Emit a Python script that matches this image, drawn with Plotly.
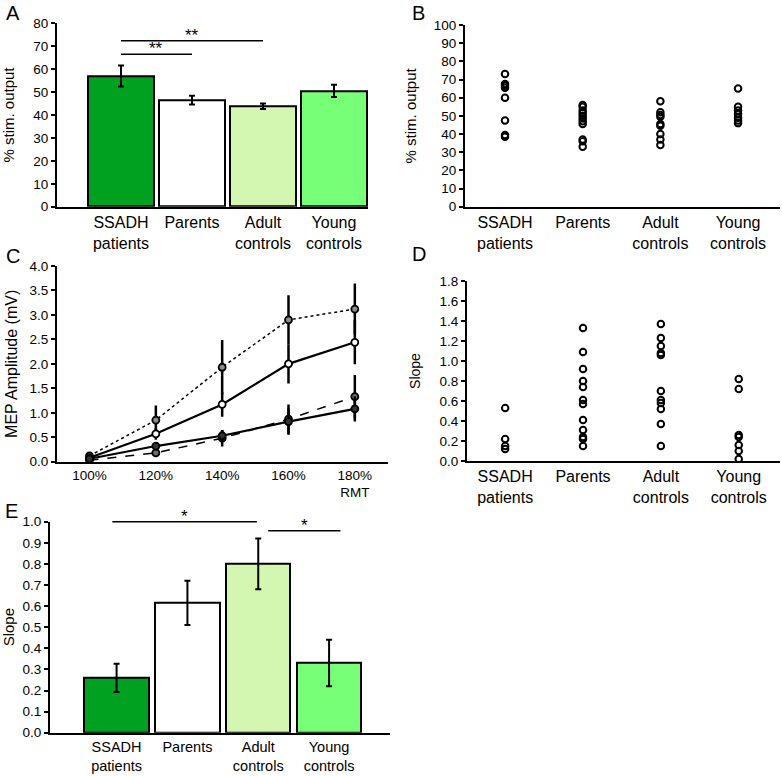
import plotly.graph_objects as go

# ---------------- data ----------------
groups = ["SSADH<br>patients", "Parents", "Adult<br>controls", "Young<br>controls"]
bar_colors = ["#00A020", "#FFFFFF", "#D3F7B0", "#78FF78"]

# Panel A: mean % stimulator output (RMT) with SEM
a_means = [57.0, 46.5, 43.8, 50.5]
a_err = [4.6, 1.9, 1.2, 2.7]
a_sig = [(0, 1, 66.5, "**"), (0, 2, 72.4, "**")]

# Panel B: individual values
b_ssadh = [73, 67.5, 66.5, 65.5, 60, 47.5, 39.5, 38.5]
b_parents = [56, 55, 53, 51.5, 50, 48.5, 47, 45.5, 37, 36, 33]
b_adult = [58, 52, 50.5, 49.5, 45.5, 44.5, 40, 37, 34]
b_young = [65, 55, 53, 51, 49, 47.5, 46]

# Panel C: recruitment curves
c_levels = ["100%", "120%", "140%", "160%", "180%<br>RMT"]
c_adult = [0.12, 0.85, 1.93, 2.90, 3.12]
c_adult_err = [0.03, 0.30, 0.56, 0.50, 0.52]
c_parents = [0.08, 0.57, 1.17, 2.00, 2.44]
c_parents_err = [0.02, 0.12, 0.25, 0.40, 0.45]
c_young = [0.03, 0.18, 0.48, 0.87, 1.33]
c_young_err = [0.01, 0.04, 0.17, 0.30, 0.44]
c_ssadh = [0.06, 0.32, 0.53, 0.82, 1.08]
c_ssadh_err = [0.01, 0.05, 0.12, 0.27, 0.26]

# Panel D: individual slopes
d_ssadh = [0.53, 0.22, 0.15, 0.12]
d_parents = [1.33, 1.09, 0.92, 0.80, 0.74, 0.61, 0.57, 0.41, 0.31, 0.24, 0.22, 0.15]
d_adult = [1.37, 1.23, 1.15, 1.08, 1.06, 0.70, 0.61, 0.58, 0.52, 0.37, 0.15]
d_young = [0.82, 0.72, 0.26, 0.24, 0.16, 0.10, 0.02]

# Panel E: mean slope with SEM
e_means = [0.26, 0.615, 0.80, 0.33]
e_err = [0.067, 0.105, 0.12, 0.11]
e_sig = [(-0.06, 1.98, 1.0, "*"), (2.14, 3.16, 0.957, "*")]

# ---------------- figure ----------------
W, H = 782, 776
FONT = "Arial, Liberation Sans, sans-serif"
fig = go.Figure()

def px_x(a, b):
    return [a / W, b / W]

def px_y(bottom, top):
    return [1 - bottom / H, 1 - top / H]

idx4 = list(range(4))

# A bars
fig.add_trace(go.Bar(x=idx4, y=a_means, width=0.93, marker=dict(color=bar_colors, line=dict(color="black", width=2)),
                     error_y=dict(type="data", array=a_err, color="black", thickness=2, width=3),
                     xaxis="x", yaxis="y", showlegend=False))

# B scatter
for i, vals in enumerate([b_ssadh, b_parents, b_adult, b_young]):
    fig.add_trace(go.Scatter(x=[i] * len(vals), y=vals, mode="markers",
                             marker=dict(symbol="circle-open", size=6.5, color="black", line=dict(width=2)),
                             xaxis="x2", yaxis="y2", showlegend=False))

# C lines
idx5 = list(range(5))
c_series = [
    (c_adult, c_adult_err, "dot", 1.5, "#8c8c8c"),
    (c_parents, c_parents_err, "solid", 2.2, "#ffffff"),
    (c_young, c_young_err, "dash", 1.5, "#6e6e6e"),
    (c_ssadh, c_ssadh_err, "solid", 2.2, "#333333"),
]
for vals, err, dash, lw, fill in c_series:
    fig.add_trace(go.Scatter(x=idx5, y=vals, mode="lines+markers",
                             line=dict(color="black", width=lw, dash=dash),
                             marker=dict(symbol="circle", size=7, color=fill, line=dict(color="black", width=1.8)),
                             error_y=dict(type="data", array=err, color="black", thickness=2.5, width=0),
                             xaxis="x3", yaxis="y3", showlegend=False))

# D scatter
for i, vals in enumerate([d_ssadh, d_parents, d_adult, d_young]):
    fig.add_trace(go.Scatter(x=[i] * len(vals), y=vals, mode="markers",
                             marker=dict(symbol="circle-open", size=6.5, color="black", line=dict(width=2)),
                             xaxis="x4", yaxis="y4", showlegend=False))

# E bars
fig.add_trace(go.Bar(x=idx4, y=e_means, width=0.91, marker=dict(color=bar_colors, line=dict(color="black", width=2)),
                     error_y=dict(type="data", array=e_err, color="black", thickness=2, width=3),
                     xaxis="x5", yaxis="y5", showlegend=False))

def xax(domain, rng, tickvals, ticktext, size, anchor):
    return dict(domain=domain, range=rng, tickvals=tickvals, ticktext=ticktext, anchor=anchor,
                showline=True, linecolor="black", linewidth=2, ticks="", showgrid=False, zeroline=False,
                automargin=False,
                tickfont=dict(family=FONT, size=size, color="black"), fixedrange=True)

def yax(domain, rng, dtick, fmt, size, title, tsize, standoff, anchor):
    return dict(domain=domain, range=rng, dtick=dtick, tick0=0, tickformat=fmt, anchor=anchor,
                showline=True, linecolor="black", linewidth=2, ticks="outside", ticklen=4, tickwidth=1.5,
                tickcolor="black", showgrid=False, zeroline=False, automargin=False,
                tickfont=dict(family=FONT, size=size, color="black"),
                title=dict(text=title, font=dict(family=FONT, size=tsize, color="black"), standoff=standoff),
                fixedrange=True)

A_dom_y = px_y(206.7, 23.3)
E_dom_y = px_y(732.7, 521.7)
E_range = [0, 1.0]

fig.update_layout(
    width=W, height=H, margin=dict(l=0, r=0, t=0, b=0, autoexpand=False),
    paper_bgcolor="white", plot_bgcolor="white", bargap=0,
    xaxis=xax(px_x(57, 368), [-0.901, 3.479], idx4, groups, 16, "y"),
    yaxis=yax(A_dom_y, [0, 80], 10, "d", 13.5, "% stim. output", 15, 16, "x"),
    xaxis2=xax(px_x(465, 780), [-0.515, 3.54], idx4, groups, 16, "y2"),
    yaxis2=yax(px_y(206.7, 25), [0, 100], 10, "d", 13.5, "% stim. output", 15, 14, "x2"),
    xaxis3=xax(px_x(57, 388), [-0.49, 4.5], idx5, c_levels, 13.5, "y3"),
    yaxis3=yax(px_y(461.7, 266), [0, 4], 0.5, ".1f", 13.5, "MEP Amplitude (mV)", 16, 8, "x3"),
    xaxis4=xax(px_x(467, 780), [-0.49, 3.53], idx4, groups, 16, "y4"),
    yaxis4=yax(px_y(461, 281), [0, 1.8], 0.2, ".1f", 13.5, "Slope", 14, 16, "x4"),
    xaxis5=xax(px_x(50, 390), [-0.94, 3.86], idx4, groups, 14.5, "y5"),
    yaxis5=yax(E_dom_y, E_range, 0.1, ".1f", 13.5, "Slope", 15, 4, "x5"),
)

def to_paper(v, dom, rng):
    return dom[0] + (v - rng[0]) / (rng[1] - rng[0]) * (dom[1] - dom[0])

# significance bars
for x0, x1, yv, txt in a_sig:
    fig.add_shape(type="line", x0=x0, x1=x1, y0=yv, y1=yv, xref="x", yref="y", line=dict(color="black", width=1.5))
    fig.add_annotation(x=(x0 + x1) / 2, y=yv, xref="x", yref="y", text=txt, showarrow=False,
                       yanchor="bottom", yshift=-6, font=dict(family=FONT, size=17, color="black"))
for x0, x1, yv, txt in e_sig:
    yp = to_paper(yv, E_dom_y, E_range)
    fig.add_shape(type="line", x0=x0, x1=x1, y0=yp, y1=yp, xref="x5", yref="paper", line=dict(color="black", width=1.5))
    fig.add_annotation(x=(x0 + x1) / 2, y=yp, xref="x5", yref="paper", text=txt, showarrow=False,
                       yanchor="bottom", yshift=-6, font=dict(family=FONT, size=17, color="black"))

# panel letters
for letter, xp, yp in [("A", 4, 0), ("B", 410, 0), ("C", 4, 243), ("D", 410, 241), ("E", 3, 498)]:
    fig.add_annotation(x=xp / W, y=1 - yp / H, xref="paper", yref="paper", text=letter, showarrow=False,
                       xanchor="left", yanchor="top", font=dict(family=FONT, size=20, color="black"))

fig.write_html("out.html", config={"displayModeBar": False},
               post_script="document.body.style.margin='0px';document.body.style.overflow='hidden';")
